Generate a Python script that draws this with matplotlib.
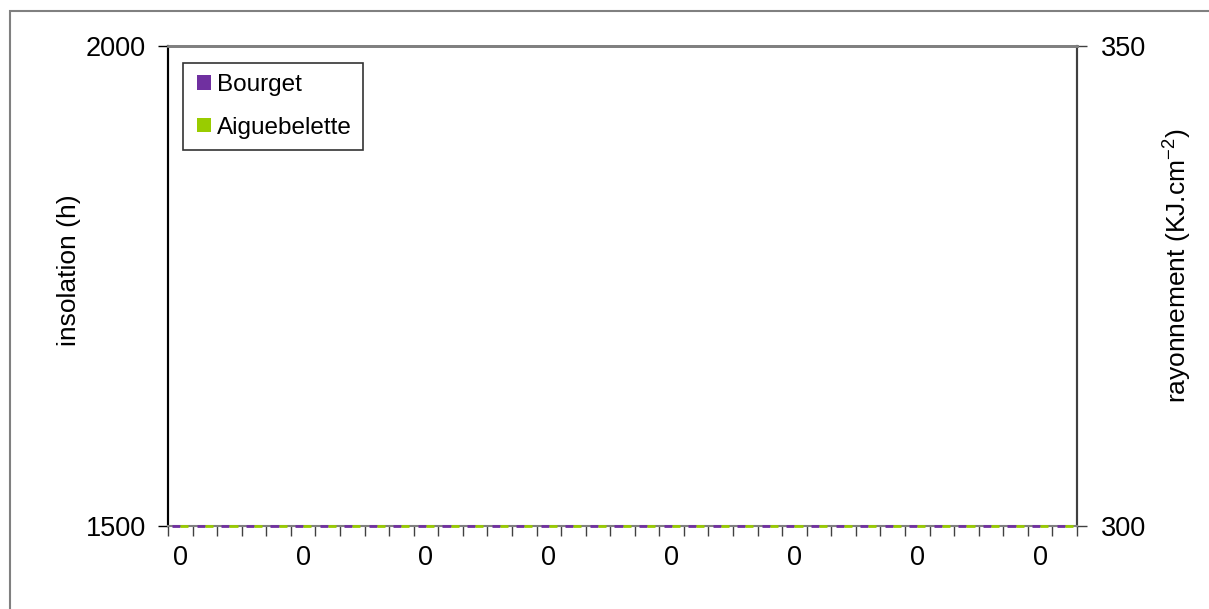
import numpy as np, matplotlib
matplotlib.use("Agg"); import matplotlib.pyplot as plt
from matplotlib.patches import Rectangle
from matplotlib.container import BarContainer
from matplotlib.legend_handler import HandlerPatch
plt.rcParams.update({"font.family": ["Liberation Sans", "DejaVu Sans"], "font.size": 19.5})

# categories (all labelled 0) and the two series, all zero
categories = ["0"] * 37
bourget = [0] * 37
aiguebelette = [0] * 37
left_lim = (1500, 2000)
right_lim = (300, 350)
PURPLE = "#7030a0"
GREEN = "#99cc00"

fig = plt.figure(figsize=(12.09, 6.09), dpi=100)
# outer chart-area frame, open on the right and bottom
fig.patches.append(Rectangle((10 / 1209, -0.1), 1.2, 1 - 11 / 609 + 0.1, transform=fig.transFigure,
                             fill=False, edgecolor="#808080", lw=1.5))
ax = fig.add_axes([168 / 1209, 1 - 526 / 609, 909 / 1209, 480 / 609])
ax2 = ax.twinx()

x = np.arange(len(categories))
w = 0.33
lo = left_lim[0]
for vals, off, col, lab in [(bourget, -w / 2, PURPLE, "Bourget"), (aiguebelette, w / 2, GREEN, "Aiguebelette")]:
    h = np.clip(vals, *left_lim) - lo
    ax.bar(x + off, h, w, bottom=lo, color=col, edgecolor=col, lw=2, label=lab, clip_on=False, zorder=3)

ax.set_xlim(-0.5, len(categories) - 0.5)
ax.set_ylim(*left_lim); ax2.set_ylim(*right_lim)
ax.set_yticks(left_lim); ax2.set_yticks(right_lim)
ax.set_xticks(x[::5], [categories[i] for i in x[::5]])
ax.set_xticks(np.arange(len(categories) + 1) - 0.5, minor=True)
ax.tick_params(axis="x", which="major", length=0, pad=14)
ax.tick_params(axis="x", which="minor", length=7, width=1, color="#404040", direction="out")
ax.tick_params(axis="y", length=7, width=1, pad=9)
ax2.tick_params(axis="y", length=7, width=1, color="#404040", pad=10)
ax.set_ylabel("insolation (h)", fontsize=19)
ax2.set_ylabel("rayonnement (KJ.cm$^{\\mathregular{-2}}$)", fontsize=19)
ax.yaxis.set_label_coords((81 - 168) / 909, 0.533)
ax2.yaxis.set_label_coords((1160 - 168) / 909, 0.543)
for a in (ax, ax2):
    a.spines["top"].set_color("#808080"); a.spines["top"].set_linewidth(2)
    a.spines["left"].set_color("black"); a.spines["left"].set_linewidth(1.5)
    a.spines["right"].set_color("#404040"); a.spines["right"].set_linewidth(1.5)
ax.spines["bottom"].set_color("#808080"); ax.spines["bottom"].set_linewidth(1.5)
ax2.spines["bottom"].set_visible(False)
ax.set_zorder(2); ax2.set_zorder(1); ax.patch.set_visible(False)


def square_key(legend, orig_handle, xdescent, ydescent, width, height, fontsize):
    # square swatch pushed to the right end of the handle box
    s = height
    return Rectangle((width - s - xdescent, -ydescent), s, s)


def from_first_bar(patch, cont):
    bar = cont.patches[0]
    patch.set_facecolor(bar.get_facecolor()); patch.set_edgecolor("none")


leg = ax.legend(loc="upper left", bbox_to_anchor=(15 / 909, 1 - 17 / 480), frameon=True, fancybox=False,
                handlelength=0.7, handleheight=0.535, handletextpad=0.25, labelspacing=0.85,
                borderpad=0.45, borderaxespad=0, fontsize=17.5,
                handler_map={BarContainer: HandlerPatch(patch_func=square_key, update_func=from_first_bar)})
leg.get_frame().set_edgecolor("black"); leg.get_frame().set_linewidth(1.2)
fig.savefig("out.png", dpi=100, facecolor="white")
